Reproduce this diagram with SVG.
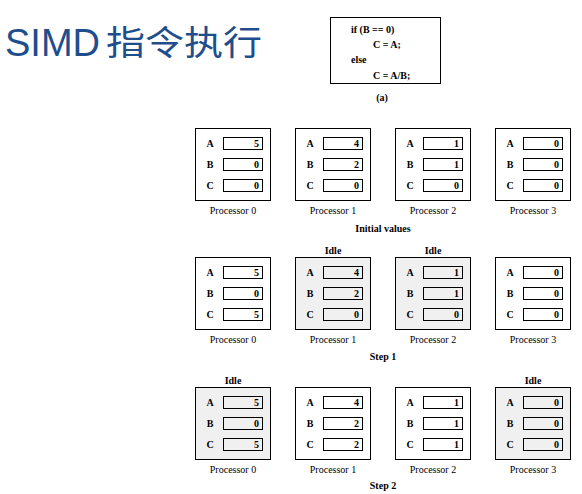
<svg xmlns="http://www.w3.org/2000/svg" width="582" height="494" viewBox="0 0 582 494">
<style>
text{font-family:"Liberation Serif","Times New Roman",serif;fill:#000}
.title{font-family:"Liberation Sans",Arial,"Noto Sans CJK SC",sans-serif;font-size:38px;fill:#1f4e8c}
.cjk{font-family:"Noto Sans CJK SC","Noto Sans CJK JP",sans-serif;font-size:34px;fill:#1f4e8c}
.code{font-size:10px;font-weight:bold}
.box{fill:#fff;stroke:#000;stroke-width:1}
.idle .box,.idle .val{fill:#f0f0f0}
.val{fill:#fff;stroke:#000;stroke-width:1}
.reg{font-size:10px;font-weight:bold;text-anchor:middle}
.num{font-size:10px;font-weight:bold;text-anchor:end}
.plabel{font-size:10px;text-anchor:middle}
.cap{font-size:10px;font-weight:bold;text-anchor:middle}
</style>
<text class="title" x="5" y="56">SIMD</text>
<text class="cjk" x="106" y="55" textLength="156" lengthAdjust="spacingAndGlyphs">指令执行</text>
<g id="code">
<rect x="330.5" y="17.5" width="110" height="66" fill="#fff" stroke="#000"/>
<text class="code" x="351" y="33">if (B == 0)</text>
<text class="code" x="373" y="48">C = A;</text>
<text class="code" x="351" y="63">else</text>
<text class="code" x="373" y="79">C = A/B;</text>
<text class="cap" x="382" y="101">(a)</text>
</g>
<defs>
<g id="frame">
<rect class="box" x="0.5" y="0.5" width="75" height="72"/>
<text class="reg" x="15" y="18.5">A</text>
<text class="reg" x="15" y="39.5">B</text>
<text class="reg" x="15" y="60.5">C</text>
</g>
</defs>
<g id="row1">
<g id="r1p0" transform="translate(195,128)"><use href="#frame"/><rect class="val" x="28.5" y="9.5" width="39" height="12"/><rect class="val" x="28.5" y="30.5" width="39" height="12"/><rect class="val" x="28.5" y="51.5" width="39" height="12"/><text class="num" x="64" y="19">5</text><text class="num" x="64" y="40">0</text><text class="num" x="64" y="61">0</text><text class="plabel" x="38" y="86">Processor 0</text></g>
<g id="r1p1" transform="translate(295,128)"><use href="#frame"/><rect class="val" x="28.5" y="9.5" width="39" height="12"/><rect class="val" x="28.5" y="30.5" width="39" height="12"/><rect class="val" x="28.5" y="51.5" width="39" height="12"/><text class="num" x="64" y="19">4</text><text class="num" x="64" y="40">2</text><text class="num" x="64" y="61">0</text><text class="plabel" x="38" y="86">Processor 1</text></g>
<g id="r1p2" transform="translate(395,128)"><use href="#frame"/><rect class="val" x="28.5" y="9.5" width="39" height="12"/><rect class="val" x="28.5" y="30.5" width="39" height="12"/><rect class="val" x="28.5" y="51.5" width="39" height="12"/><text class="num" x="64" y="19">1</text><text class="num" x="64" y="40">1</text><text class="num" x="64" y="61">0</text><text class="plabel" x="38" y="86">Processor 2</text></g>
<g id="r1p3" transform="translate(495,128)"><use href="#frame"/><rect class="val" x="28.5" y="9.5" width="39" height="12"/><rect class="val" x="28.5" y="30.5" width="39" height="12"/><rect class="val" x="28.5" y="51.5" width="39" height="12"/><text class="num" x="64" y="19">0</text><text class="num" x="64" y="40">0</text><text class="num" x="64" y="61">0</text><text class="plabel" x="38" y="86">Processor 3</text></g>
<text class="cap" x="383" y="232">Initial values</text>
</g>
<g id="row2">
<g id="r2p0" transform="translate(195,257)"><use href="#frame"/><rect class="val" x="28.5" y="9.5" width="39" height="12"/><rect class="val" x="28.5" y="30.5" width="39" height="12"/><rect class="val" x="28.5" y="51.5" width="39" height="12"/><text class="num" x="64" y="19">5</text><text class="num" x="64" y="40">0</text><text class="num" x="64" y="61">5</text><text class="plabel" x="38" y="86">Processor 0</text></g>
<g id="r2p1" class="idle" transform="translate(295,257)"><rect class="box" x="0.5" y="0.5" width="75" height="72"/><text class="reg" x="15" y="18.5">A</text><text class="reg" x="15" y="39.5">B</text><text class="reg" x="15" y="60.5">C</text><rect class="val" x="28.5" y="9.5" width="39" height="12"/><rect class="val" x="28.5" y="30.5" width="39" height="12"/><rect class="val" x="28.5" y="51.5" width="39" height="12"/><text class="num" x="64" y="19">4</text><text class="num" x="64" y="40">2</text><text class="num" x="64" y="61">0</text><text class="plabel" x="38" y="86">Processor 1</text><text class="cap" x="38" y="-3">Idle</text></g>
<g id="r2p2" class="idle" transform="translate(395,257)"><rect class="box" x="0.5" y="0.5" width="75" height="72"/><text class="reg" x="15" y="18.5">A</text><text class="reg" x="15" y="39.5">B</text><text class="reg" x="15" y="60.5">C</text><rect class="val" x="28.5" y="9.5" width="39" height="12"/><rect class="val" x="28.5" y="30.5" width="39" height="12"/><rect class="val" x="28.5" y="51.5" width="39" height="12"/><text class="num" x="64" y="19">1</text><text class="num" x="64" y="40">1</text><text class="num" x="64" y="61">0</text><text class="plabel" x="38" y="86">Processor 2</text><text class="cap" x="38" y="-3">Idle</text></g>
<g id="r2p3" transform="translate(495,257)"><use href="#frame"/><rect class="val" x="28.5" y="9.5" width="39" height="12"/><rect class="val" x="28.5" y="30.5" width="39" height="12"/><rect class="val" x="28.5" y="51.5" width="39" height="12"/><text class="num" x="64" y="19">0</text><text class="num" x="64" y="40">0</text><text class="num" x="64" y="61">0</text><text class="plabel" x="38" y="86">Processor 3</text></g>
<text class="cap" x="383" y="360">Step 1</text>
</g>
<g id="row3">
<g id="r3p0" class="idle" transform="translate(195,387)"><rect class="box" x="0.5" y="0.5" width="75" height="72"/><text class="reg" x="15" y="18.5">A</text><text class="reg" x="15" y="39.5">B</text><text class="reg" x="15" y="60.5">C</text><rect class="val" x="28.5" y="9.5" width="39" height="12"/><rect class="val" x="28.5" y="30.5" width="39" height="12"/><rect class="val" x="28.5" y="51.5" width="39" height="12"/><text class="num" x="64" y="19">5</text><text class="num" x="64" y="40">0</text><text class="num" x="64" y="61">5</text><text class="plabel" x="38" y="86">Processor 0</text><text class="cap" x="38" y="-3">Idle</text></g>
<g id="r3p1" transform="translate(295,387)"><use href="#frame"/><rect class="val" x="28.5" y="9.5" width="39" height="12"/><rect class="val" x="28.5" y="30.5" width="39" height="12"/><rect class="val" x="28.5" y="51.5" width="39" height="12"/><text class="num" x="64" y="19">4</text><text class="num" x="64" y="40">2</text><text class="num" x="64" y="61">2</text><text class="plabel" x="38" y="86">Processor 1</text></g>
<g id="r3p2" transform="translate(395,387)"><use href="#frame"/><rect class="val" x="28.5" y="9.5" width="39" height="12"/><rect class="val" x="28.5" y="30.5" width="39" height="12"/><rect class="val" x="28.5" y="51.5" width="39" height="12"/><text class="num" x="64" y="19">1</text><text class="num" x="64" y="40">1</text><text class="num" x="64" y="61">1</text><text class="plabel" x="38" y="86">Processor 2</text></g>
<g id="r3p3" class="idle" transform="translate(495,387)"><rect class="box" x="0.5" y="0.5" width="75" height="72"/><text class="reg" x="15" y="18.5">A</text><text class="reg" x="15" y="39.5">B</text><text class="reg" x="15" y="60.5">C</text><rect class="val" x="28.5" y="9.5" width="39" height="12"/><rect class="val" x="28.5" y="30.5" width="39" height="12"/><rect class="val" x="28.5" y="51.5" width="39" height="12"/><text class="num" x="64" y="19">0</text><text class="num" x="64" y="40">0</text><text class="num" x="64" y="61">0</text><text class="plabel" x="38" y="86">Processor 3</text><text class="cap" x="38" y="-3">Idle</text></g>
<text class="cap" x="383" y="489">Step 2</text>
</g>
</svg>
